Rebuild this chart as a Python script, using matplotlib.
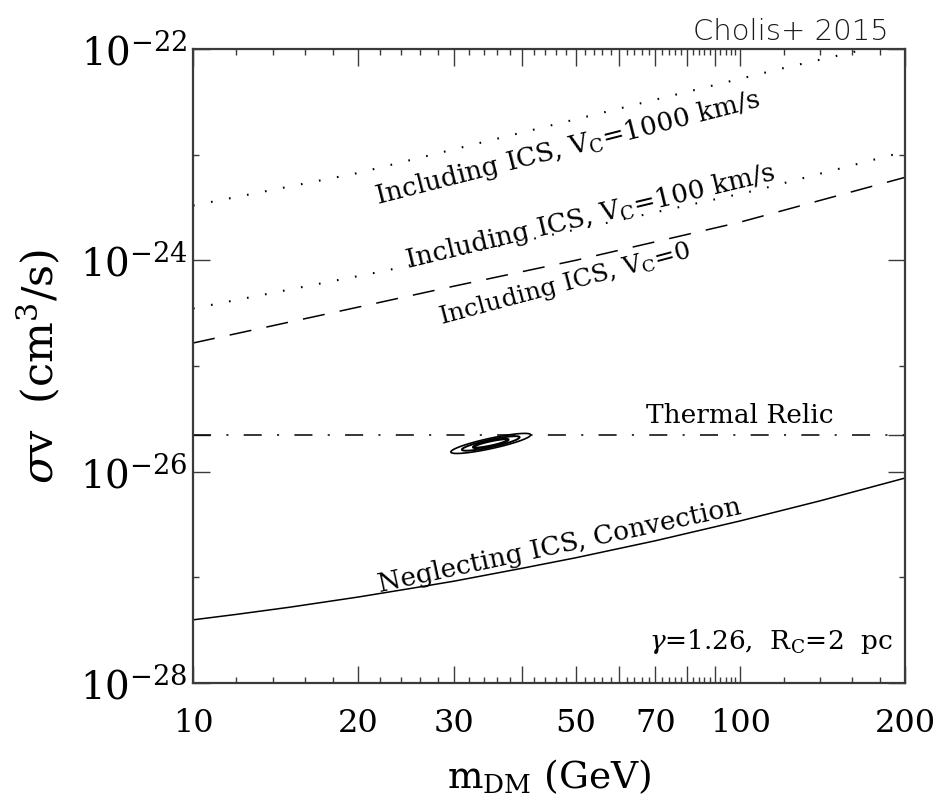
import numpy as np
import matplotlib
matplotlib.use("Agg")
import matplotlib.pyplot as plt

plt.rcParams["font.family"] = ["DejaVu Serif"]
plt.rcParams["mathtext.fontset"] = "dejavuserif"
plt.rcParams["lines.scale_dashes"] = False

# --- curves: dark matter mass (GeV) vs annihilation cross section (cm^3/s) ---
m_conv = [10, 12, 15, 20, 25, 30, 40, 50, 70, 100, 140, 200]
sv_conv = [3.96e-28, 4.46e-28, 5.21e-28, 6.5e-28, 7.85e-28, 9.2e-28,
           1.22e-27, 1.53e-27, 2.22e-27, 3.42e-27, 5.3e-27, 8.7e-27]

m_ics0 = [10, 20, 30, 50, 100, 200]
sv_ics0 = [1.65e-25, 3.6e-25, 5.7e-25, 1.0e-24, 2.3e-24, 6.1e-24]

m_ics100 = [10, 22, 50, 107, 200]
sv_ics100 = [3.5e-25, 7.8e-25, 1.95e-24, 4.6e-24, 1.07e-23]

m_ics1000 = [10, 20, 50, 120, 170, 200]
sv_ics1000 = [3.3e-24, 6.7e-24, 2.16e-23, 6.6e-23, 1.0e-22, 1.25e-22]

sv_thermal = 2.2e-26

# best-fit region (log-normal likelihood)
fit_mass = 35.0
fit_sv = 1.85e-26
fit_sigma_logm = 0.0212
fit_sigma_logsv = 0.0276
fit_corr = 0.85
fit_levels = [2.30, 6.18, 11.83]

x_major = [10, 20, 30, 40, 50, 60, 70, 80, 90, 100, 200]
x_labels = ["10", "20", "30", "", "50", "", "70", "", "", "100", "200"]
x_minor = [v for v in range(12, 100, 2) if v % 10 != 0] + [120, 140, 160, 180]
y_major = [1e-28, 1e-26, 1e-24, 1e-22]
y_labels = [r"$10^{-28}$", r"$10^{-26}$", r"$10^{-24}$", r"$10^{-22}$"]
y_minor = [1e-27, 1e-25, 1e-23]

fig = plt.figure(figsize=(9.38, 8.0), dpi=100)
ax = fig.add_axes([193 / 938, 1 - 683 / 800, 712 / 938, 634 / 800])
ax.set_xscale("log")
ax.set_yscale("log")
ax.set_xlim(10, 200)
ax.set_ylim(1e-28, 1e-22)

ink = "black"
ax.plot(m_conv, sv_conv, color=ink, lw=1.1)
ax.plot(m_ics0, sv_ics0, color=ink, lw=1.1, dashes=(16, 11))
ax.plot(m_ics100, sv_ics100, color=ink, lw=1.5, dashes=(1.2, 12))
ax.plot(m_ics1000, sv_ics1000, color=ink, lw=1.5, dashes=(1.2, 12))
ax.axhline(sv_thermal, color=ink, lw=1.1, dashes=(13, 11, 1.5, 11))

# likelihood contours in log space
lx = np.linspace(np.log10(fit_mass) - 0.15, np.log10(fit_mass) + 0.15, 400)
ly = np.linspace(np.log10(fit_sv) - 0.15, np.log10(fit_sv) + 0.15, 400)
LX, LY = np.meshgrid(lx, ly)
dx = (LX - np.log10(fit_mass)) / fit_sigma_logm
dy = (LY - np.log10(fit_sv)) / fit_sigma_logsv
chi2 = (dx ** 2 - 2 * fit_corr * dx * dy + dy ** 2) / (1 - fit_corr ** 2)
ax.contour(10 ** LX, 10 ** LY, chi2, levels=fit_levels, colors=ink,
           linewidths=[1.7, 1.4, 1.2])

# ticks
ax.set_xticks(x_major, labels=x_labels)
ax.set_xticks(x_minor, minor=True)
ax.set_xticklabels([], minor=True)
ax.set_yticks(y_major + [sv_thermal], labels=y_labels + [""])
ax.set_yticks(y_minor, minor=True)
ax.set_yticklabels([], minor=True)

spine_col = "#3a3a3a"
for s in ax.spines.values():
    s.set_linewidth(1.6)
    s.set_color(spine_col)
ax.tick_params(which="both", direction="in", top=True, right=True,
               color=spine_col, width=1.0)
ax.tick_params(which="major", length=12)
ax.tick_params(axis="x", which="major", labelsize=23, pad=18)
ax.tick_params(axis="y", which="major", labelsize=28, pad=4)
ax.tick_params(which="minor", length=4.5)

ax.set_xlabel(r"m$_{\rm DM}$ (GeV)", fontsize=27, labelpad=13)
ax.set_ylabel(r"$\sigma$v  (cm$^3$/s)", fontsize=31, labelpad=12)

# curve annotations
tfs = 19
ax.text(48.3, 1.16e-23, r"Including ICS, V$_{\rm C}$=1000 km/s", fontsize=tfs,
        rotation=14.3, ha="center", va="center", rotation_mode="anchor")
ax.text(53.2, 2.58e-24, r"Including ICS, V$_{\rm C}$=100 km/s", fontsize=tfs,
        rotation=13.5, ha="center", va="center", rotation_mode="anchor")
ax.text(47.8, 5.98e-25, r"Including ICS, V$_{\rm C}$=0", fontsize=18,
        rotation=15.0, ha="center", va="center", rotation_mode="anchor")
ax.text(100, 3.37e-26, "Thermal Relic", fontsize=tfs, ha="center", va="center")
ax.text(46.7, 1.99e-27, "Neglecting ICS, Convection", fontsize=tfs,
        rotation=12.2, ha="center", va="center", rotation_mode="anchor")
ax.text(0.983, 0.066, r"$\gamma$=1.26,  R$_{\rm C}$=2  pc", fontsize=tfs,
        transform=ax.transAxes, ha="right", va="center")

fig.text(889 / 938, 1 - 40 / 800, "Cholis+ 2015", fontsize=21, weight=200,
         family=["DejaVu Sans"], ha="right", va="baseline", color="#1a1a1a")

fig.savefig("out.png", dpi=100)
